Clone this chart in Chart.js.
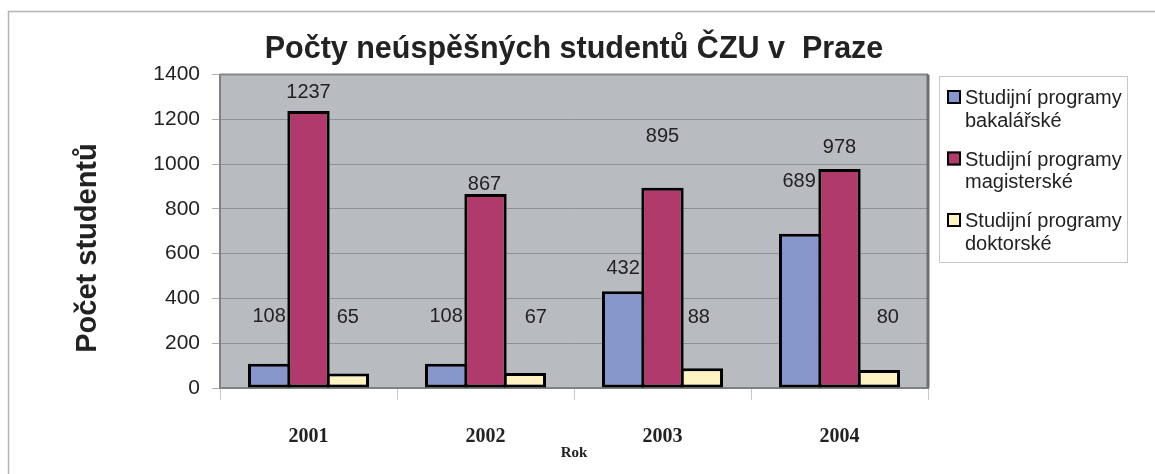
<!DOCTYPE html>
<html>
<head>
<meta charset="utf-8">
<script src="https://cdn.jsdelivr.net/npm/chart.js@4.4.1/dist/chart.umd.min.js"></script>
<style>
html, body { margin: 0; padding: 0; background: #fff; }
</style>
</head>
<body>
<canvas id="barChart" width="1155" height="474"></canvas>
<script>
// data
const YEARS = ['2001', '2002', '2003', '2004'];
const SERIES = ['Studijní programy bakalářské', 'Studijní programy magisterské', 'Studijní programy doktorské'];
const bakalarske = [108, 108, 432, 689];
const magisterske = [1237, 867, 895, 978];
const doktorske = [65, 67, 88, 80];
const Y_MAX = 1400;
const Y_STEP = 200;
const Y_TITLE = 'Počet studentů';

const COLORS = ['#8797cc', '#b13a6d', '#fff3c4'];
// where each value label sits, in px relative to the top of its bar
const labelShift = [
    [[0, -47], [0, -47], [0, -23], [-1, -52]],
    [[0, -19], [-1, -9], [0, -51], [0, -22]],
    [[0, -56], [11, -56], [-3, -51], [9, -53]]
];

Chart.defaults.font.family = '"Liberation Sans", Arial, sans-serif';
Chart.defaults.color = '#222';

const frame = {
    id: 'frame',
    beforeDraw(chart) {
        const {ctx, chartArea} = chart;
        ctx.save();
        ctx.fillStyle = '#fff';
        ctx.fillRect(0, 0, chart.width, chart.height);
        ctx.strokeStyle = '#b4b4b4';
        ctx.lineWidth = 1.5;
        ctx.beginPath();
        ctx.moveTo(8.5, chart.height + 2);
        ctx.lineTo(8.5, 11.5);
        ctx.lineTo(chart.width + 2, 11.5);
        ctx.stroke();
        ctx.fillStyle = '#b8bcc0';
        ctx.fillRect(chartArea.left, chartArea.top, chartArea.right - chartArea.left, chartArea.bottom - chartArea.top);
        // rotated y axis title, centred a bit lower than the plot like in the original
        ctx.translate(88, 248);
        ctx.rotate(-Math.PI / 2);
        ctx.font = 'bold 29px "Liberation Sans", Arial, sans-serif';
        ctx.fillStyle = '#222';
        ctx.textAlign = 'center';
        ctx.textBaseline = 'middle';
        ctx.fillText(Y_TITLE, 0, 0);
        ctx.restore();
    },
    afterDatasetsDraw(chart) {
        const {ctx, chartArea} = chart;
        ctx.save();
        ctx.strokeStyle = '#858585';
        ctx.lineWidth = 2;
        ctx.beginPath();
        ctx.moveTo(chartArea.left, chartArea.top);
        ctx.lineTo(chartArea.right, chartArea.top);
        ctx.stroke();
        ctx.strokeStyle = '#6e6e6e';
        ctx.lineWidth = 3;
        ctx.beginPath();
        ctx.moveTo(chartArea.right, chartArea.top);
        ctx.lineTo(chartArea.right, chartArea.bottom);
        ctx.stroke();
        ctx.restore();
    }
};

const valueLabels = {
    id: 'valueLabels',
    afterDatasetsDraw(chart) {
        const ctx = chart.ctx;
        ctx.save();
        ctx.font = '20px "Liberation Sans", Arial, sans-serif';
        ctx.fillStyle = '#222';
        ctx.textAlign = 'center';
        ctx.textBaseline = 'middle';
        chart.data.datasets.forEach((ds, i) => {
            chart.getDatasetMeta(i).data.forEach((bar, j) => {
                const s = labelShift[i][j];
                ctx.fillText(ds.data[j], bar.x + s[0], bar.y + s[1]);
            });
        });
        ctx.restore();
    }
};

const sideLegend = {
    id: 'sideLegend',
    afterDraw(chart) {
        const ctx = chart.ctx;
        ctx.save();
        ctx.strokeStyle = '#c8c8c8';
        ctx.lineWidth = 1;
        ctx.strokeRect(939.5, 76.5, 188, 186);
        ctx.font = '20px "Liberation Sans", Arial, sans-serif';
        ctx.textBaseline = 'alphabetic';
        ctx.textAlign = 'left';
        chart.data.datasets.forEach((ds, i) => {
            const base = 104 + i * 61.5;
            ctx.fillStyle = ds.backgroundColor;
            ctx.fillRect(947, base - 14, 14, 14);
            ctx.strokeStyle = '#000';
            ctx.lineWidth = 2;
            ctx.strokeRect(948, base - 13, 12, 12);
            const cut = ds.label.lastIndexOf(' ');
            ctx.fillStyle = '#222';
            ctx.fillText(ds.label.substring(0, cut), 965, base);
            ctx.fillText(ds.label.substring(cut + 1), 965, base + 22.5);
        });
        ctx.restore();
    }
};

const bar = document.getElementById('barChart');

const barData = {
    labels: YEARS,
    datasets: [bakalarske, magisterske, doktorske].map((values, i) => ({
        label: SERIES[i],
        data: values,
        backgroundColor: COLORS[i],
        borderColor: '#000',
        borderWidth: 3,
        borderSkipped: false,
        categoryPercentage: 0.667,
        barPercentage: 1.076
    }))
};

const barChart = new Chart(bar, {
    type: 'bar',
    data: barData,
    plugins: [frame, valueLabels, sideLegend],
    options: {
        responsive: false,
        animation: false,
        layout: {
            padding: {left: 0, top: 0, right: 227, bottom: 0}
        },
        scales: {
            x: {
                afterFit: scale => { scale.height = 86; },
                grid: {
                    offset: true,
                    drawOnChartArea: false,
                    tickLength: 12,
                    tickColor: '#c8c8c8'
                },
                border: {display: true, color: '#808080', width: 2},
                ticks: {
                    padding: 25,
                    color: '#222',
                    font: {family: '"Liberation Serif", "Times New Roman", serif', size: 20, weight: 'bold'}
                },
                title: {
                    display: true,
                    text: 'Rok',
                    color: '#222',
                    padding: {top: 0, bottom: 12},
                    font: {family: '"Liberation Serif", "Times New Roman", serif', size: 15, weight: 'bold'}
                }
            },
            y: {
                min: 0,
                max: Y_MAX,
                afterFit: scale => { scale.width = 220; },
                grid: {
                    color: '#8e9296',
                    tickColor: '#b0b0b0',
                    tickLength: 8
                },
                border: {display: true, color: '#808080', width: 2},
                ticks: {
                    stepSize: Y_STEP,
                    padding: 12,
                    color: '#222',
                    font: {size: 21},
                    callback: value => String(value)
                }
            }
        },
        plugins: {
            legend: {display: false},
            tooltip: {enabled: false},
            title: {
                display: true,
                fullSize: false,
                text: 'Počty neúspěšných studentů ČZU v  Praze',
                color: '#222',
                padding: {top: 31, bottom: 7},
                font: {size: 30.5, weight: 'bold'}
            }
        }
    }
});
</script>
</body>
</html>
